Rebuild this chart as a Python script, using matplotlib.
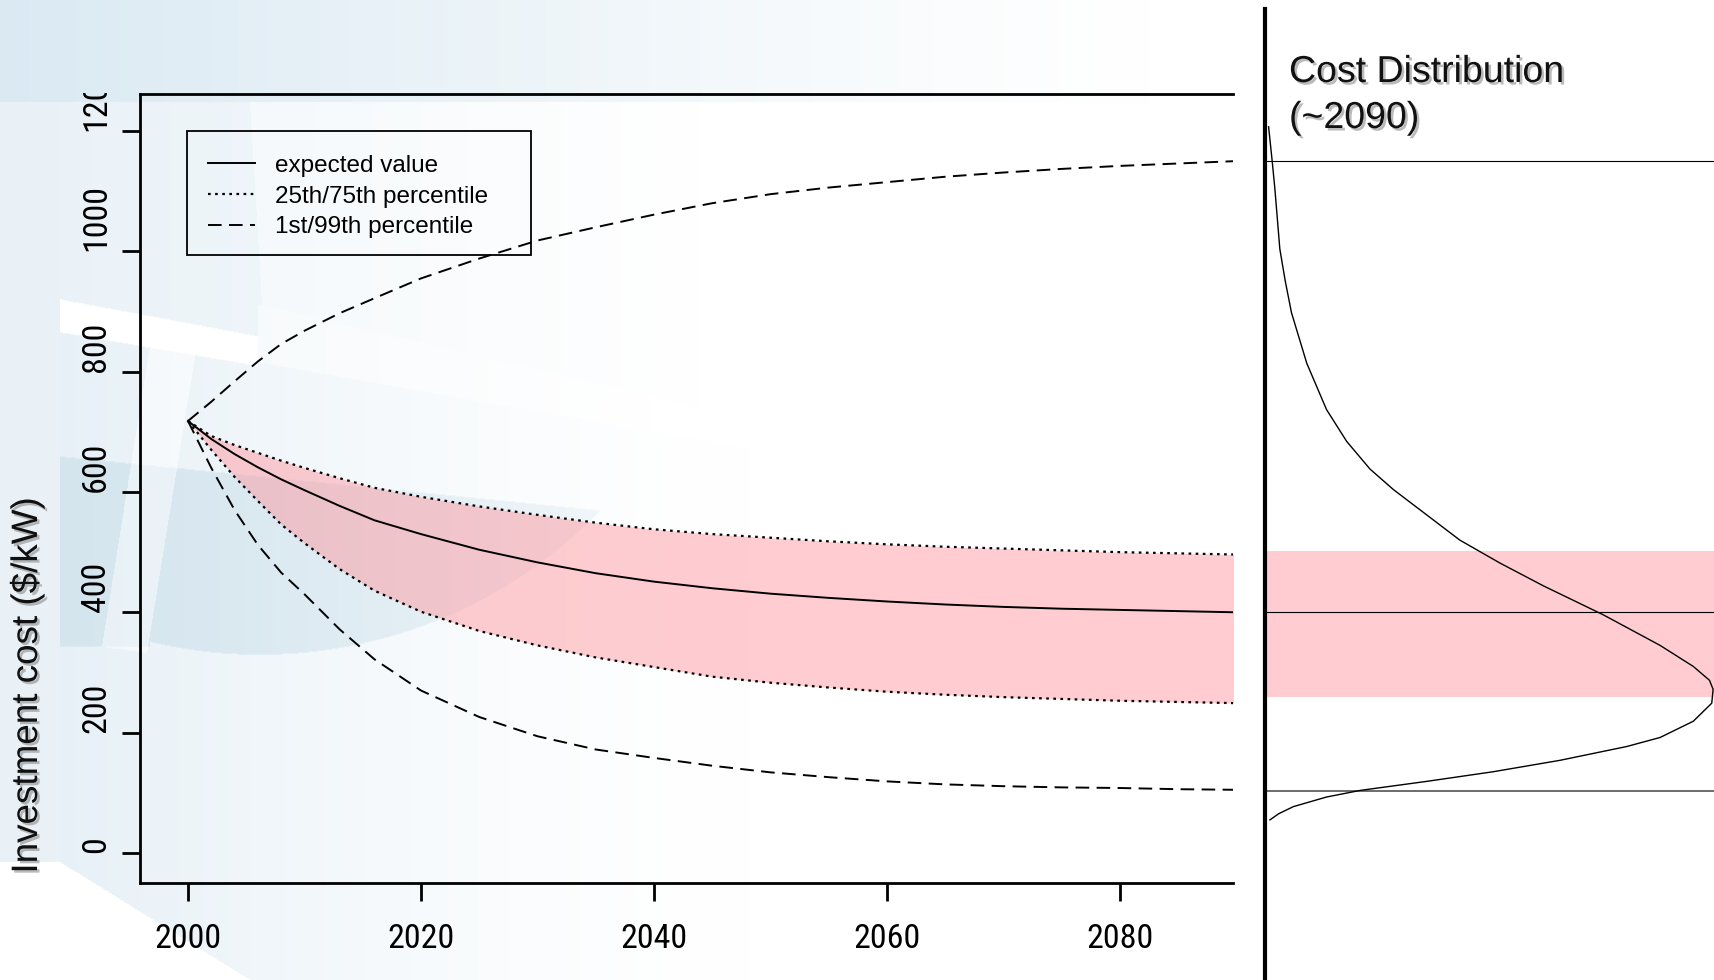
import numpy as np
import matplotlib
matplotlib.use("Agg")
import matplotlib.pyplot as plt
import matplotlib.font_manager as fm
import matplotlib.patheffects as pe
from matplotlib.path import Path
from matplotlib.lines import Line2D
from matplotlib.patches import Rectangle
from matplotlib.transforms import Bbox

# ---- data ----
years = [2000, 2002, 2004, 2006, 2008, 2010, 2013, 2016, 2020, 2025, 2030, 2035,
         2040, 2045, 2050, 2055, 2060, 2065, 2070, 2075, 2080, 2085, 2090]
expected = [718, 688, 663, 641, 621, 603, 577, 553, 530, 504, 483, 465,
            451, 440, 431, 424, 418, 413, 409, 406, 404, 402, 400]
p75 = [718, 693, 678, 665, 652, 640, 623, 607, 592, 576, 562, 549,
       538, 530, 524, 518, 513, 509, 506, 503, 500, 498, 496]
p25 = [718, 670, 625, 585, 546, 515, 472, 436, 401, 369, 345, 325,
       309, 293, 283, 275, 268, 263, 259, 256, 253, 251, 249]
p99 = [718, 750, 784, 817, 846, 868, 897, 922, 955, 988, 1018, 1040,
       1061, 1080, 1095, 1106, 1115, 1124, 1131, 1137, 1142, 1146, 1150]
p01 = [718, 640, 570, 512, 466, 430, 372, 322, 270, 226, 194, 172,
       158, 145, 134, 126, 119, 114, 111, 109, 108, 106, 105]

# cost distribution around 2090 (cost level -> relative density)
dens_cost = [1207, 1150, 1104, 1004, 951, 898, 814, 737, 684, 638, 604, 562, 520,
             482, 444, 396, 345, 310, 287, 272, 249, 219, 192, 177, 154, 135, 119,
             104, 93, 77, 65, 55]
dens_val = [0.008, 0.016, 0.022, 0.033, 0.045, 0.059, 0.093, 0.137, 0.182, 0.234,
            0.286, 0.360, 0.434, 0.523, 0.620, 0.753, 0.880, 0.954, 0.990, 0.998,
            0.995, 0.954, 0.880, 0.806, 0.657, 0.508, 0.360, 0.212, 0.137, 0.063,
            0.030, 0.011]
dist_band = [259, 502]
dist_lines = [1150, 400, 103]

xticks = [2000, 2020, 2040, 2060, 2080]
xtick_labels = ["2000", "2020", "2040", "2060", "2080"]
yticks = [0, 200, 400, 600, 800, 1000, 1200]
ytick_labels = ["0", "200", "400", "600", "800", "1000", "1200"]
legend_labels = ["expected value", "25th/75th percentile", "1st/99th percentile"]

W, H = 1714, 980
fig = plt.figure(figsize=(W / 100, H / 100), dpi=100)
fig.patch.set_facecolor("white")


def narrow_font():
    fl = fm.fontManager.ttflist
    for name, size in [("Liberation Sans Narrow", 23.5), ("Roboto Condensed", 24.5)]:
        for f in fl:
            if f.name == name and f.style == "normal" and f.weight in (400, "normal", "regular"):
                return f.fname, size
    for f in fl:
        if f.name == "DejaVu Sans" and f.stretch == "condensed" and f.style == "normal" \
                and f.weight in (400, "normal"):
            return f.fname, 21
    return None, 21.5


nf_path, tick_size = narrow_font()
if nf_path:
    tick_fp = fm.FontProperties(fname=nf_path, size=tick_size)
else:
    tick_fp = fm.FontProperties(family="Liberation Sans", size=tick_size)

# ---- slide background (light blue tiles) ----
yy, xx = np.mgrid[0:H, 0:W] + 0.5
img = np.ones((H, W, 3))


def fade(x0, x1, p=1.0):
    return np.clip((x1 - xx) / (x1 - x0), 0, 1) ** p


def paint(mask, color, strength):
    s = (mask * strength)[..., None]
    img[:] = img * (1 - s) + np.array(color) * s


def poly_mask(verts):
    pts = np.column_stack([xx.ravel(), yy.ravel()])
    return Path(verts).contains_points(pts).reshape(H, W).astype(float)


c_top = (0.855, 0.915, 0.952)
c_light = (0.905, 0.943, 0.967)
c_dark = (0.835, 0.9, 0.935)
white = (1, 1, 1)

gap_top = np.where(xx < 258, 300 + (xx - 60) * 0.187, 305 + (xx - 258) * 0.234)
gap_bot = np.where(xx < 258, 333 + (xx - 60) * 0.17, 352 + (xx - 196) * 0.176)
bottom_curve = 862 + (xx - 60) * 0.62

paint(yy < 103, c_top, fade(0, 1150, 1.2))
paint((xx < 60) & (yy >= 103) & (yy < 862), c_light, 0.9)
upper = (xx >= 60) & (yy >= 103) & (yy < gap_top)
paint(upper, c_light, np.where(xx < 250 + (yy - 103) * 0.06, 0.85 * fade(60, 600, 0.5),
                               0.4 * fade(250, 700)))
gap = (xx >= 258) & (yy >= gap_top) & (yy < gap_bot)
paint(gap, c_light, 0.3 * fade(258, 650))
lower = (xx >= 60) & (yy >= gap_bot) & (yy < bottom_curve)
paint(lower, c_light, fade(60, 750, 1.5))
gap_ab = poly_mask([(150, 347), (196, 352), (147, 653), (102, 647)])
paint(gap_ab, white, 0.55)

# darker band with round lower edge
arc_y = 180 + np.sqrt(np.clip(475 ** 2 - (xx - 260) ** 2, 0, None))
band_bottom = np.where(xx < 150, 647, arc_y)
dark = (xx >= 60) & (yy > 457 + (xx - 60) * 0.1) & (yy < band_bottom)
paint(dark * (1 - 0.6 * gap_ab), c_dark, fade(60, 800, 0.9))

bg = fig.add_axes([0, 0, 1, 1], zorder=-10)
bg.imshow(img, extent=(0, W, H, 0), aspect="auto", interpolation="bilinear")
bg.axis("off")

# ---- main chart ----
ax = fig.add_axes([140 / W, (H - 883) / H, (1233 - 140) / W, (883 - 94) / H])
ax.set_facecolor("none")
pink = (1.0, 0.57, 0.6)
dash = (0, (7, 3.8))
dot = (0, (1.2, 2.0))

ax.fill_between(years, p25, p75, color=pink, alpha=0.45, linewidth=0, zorder=1)
l_exp, = ax.plot(years, expected, color="black", lw=1.4, zorder=3)
l_q, = ax.plot(years, p75, color="black", lw=1.6, linestyle=dot, zorder=3)
ax.plot(years, p25, color="black", lw=1.6, linestyle=dot, zorder=3)
l_p, = ax.plot(years, p99, color="black", lw=1.4, linestyle=dash, zorder=3)
ax.plot(years, p01, color="black", lw=1.4, linestyle=dash, zorder=3)

ax.set_xlim(1995.88, 2089.7)
ax.set_ylim(-49.9, 1261.5)
ax.spines["right"].set_visible(False)
for s in ["left", "top", "bottom"]:
    ax.spines[s].set_linewidth(2)
ax.set_xticks(xticks)
ax.set_xticklabels(xtick_labels, fontproperties=tick_fp)
ax.set_yticks(yticks)
ax.set_yticklabels(ytick_labels, fontproperties=tick_fp, rotation=90, va="bottom")
ax.tick_params(axis="both", length=13, width=2, direction="out")
ax.tick_params(axis="x", pad=16)
ax.tick_params(axis="y", pad=7)
clip = Bbox.from_extents(0, 0, W, H - 93)
for lab in ax.get_yticklabels():
    lab.set_clip_box(clip)
    lab.set_clip_on(True)

ax.add_patch(Rectangle((0.043, 0.7959), 0.3147, 0.1572, transform=ax.transAxes,
                       fill=False, edgecolor="black", lw=1.3, zorder=4))
leg = ax.legend([l_exp, l_q, l_p], legend_labels, loc="upper left",
                bbox_to_anchor=(0.0622, 0.9227), borderaxespad=0, borderpad=0,
                frameon=False, prop={"family": "Liberation Sans", "size": 17.5},
                handlelength=1.95, handletextpad=0.82, labelspacing=0.35)

shadow = [pe.SimplePatchShadow(offset=(1.8, -1.8), shadow_rgbFace="0.55", alpha=0.6), pe.Normal()]
fig.text(27 / W, 1 - 686 / H, "Investment cost ($/kW)", rotation=90, ha="center", va="center",
         fontsize=26.5, family="Liberation Sans", color="#111111", path_effects=shadow)

# ---- right panel: distribution ~2090 ----
ax2 = fig.add_axes([1265 / W, (H - 883) / H, (W - 1265) / W, (883 - 94) / H])
ax2.set_facecolor("white")
ax2.set_xlim(0, 1)
ax2.set_ylim(-49.9, 1261.5)
ax2.axhspan(dist_band[0], dist_band[1], color=pink, alpha=0.45, linewidth=0)
ax2.axhline(dist_lines[0], color="black", lw=0.8)
ax2.axhline(dist_lines[1], color="black", lw=0.8)
ax2.axhline(dist_lines[2], color="#444444", lw=1.1)
ax2.plot(dens_val, dens_cost, color="black", lw=1.0)
for s in ax2.spines.values():
    s.set_visible(False)
ax2.set_xticks([])
ax2.set_yticks([])

fig.add_artist(Line2D([1265 / W, 1265 / W], [0, 1 - 9 / H], transform=fig.transFigure,
                      color="black", lw=3))
fig.text(1289 / W, 1 - 82 / H, "Cost Distribution", fontsize=27, family="Liberation Sans",
         va="baseline", ha="left", color="#111111", path_effects=shadow)
fig.text(1289 / W, 1 - 128 / H, "(~2090)", fontsize=27, family="Liberation Sans",
         va="baseline", ha="left", color="#111111", path_effects=shadow)

fig.savefig("out.png", dpi=100)
